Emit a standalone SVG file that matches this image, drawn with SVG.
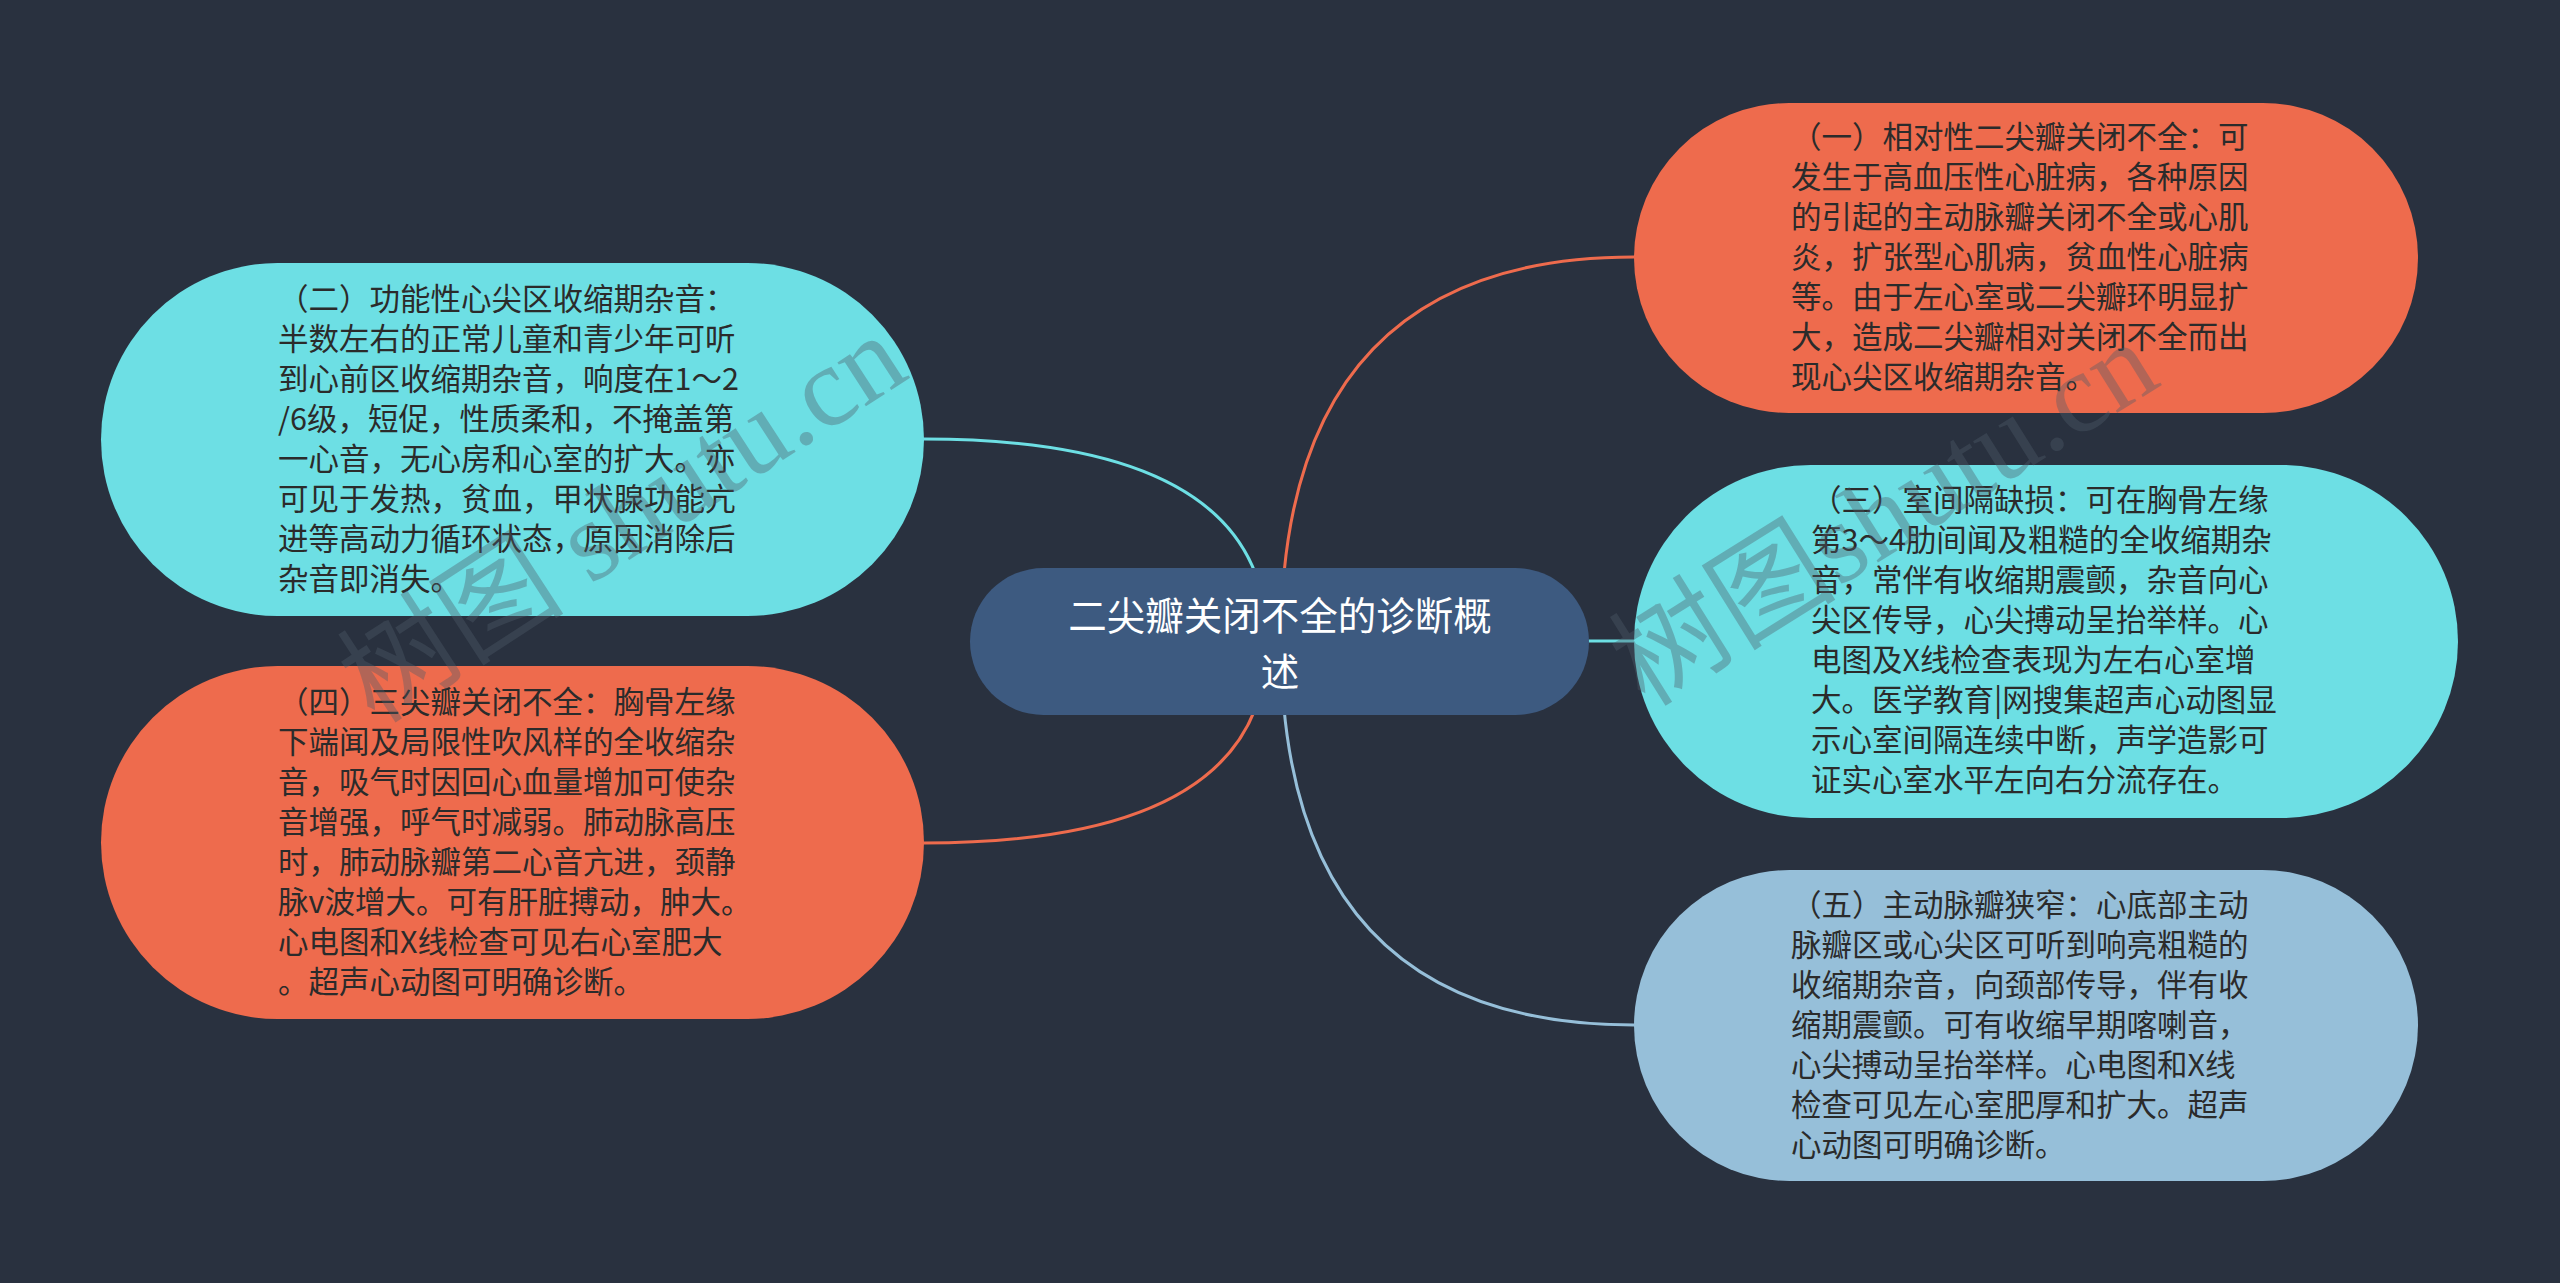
<svg xmlns="http://www.w3.org/2000/svg" width="2560" height="1283" viewBox="0 0 2560 1283">
<style>
.bg{fill:#29313f}
.orange{fill:#ee6b4d}
.cyan{fill:#6ddfe4}
.lblue{fill:#96bfd9}
.root{fill:#3d5a80}
.t{font-family:"Noto Sans CJK SC","Noto Sans",sans-serif;font-size:30.5px;fill:#2b2b2b}
.rt{font-family:"Noto Sans CJK SC","Noto Sans",sans-serif;font-size:38.5px;fill:#ffffff;text-anchor:middle}
.c{fill:none;stroke-width:3;stroke-linecap:round}
.wm{font-family:"Liberation Serif","Noto Sans CJK SC",serif;font-size:114px;fill:#4f5d68;fill-opacity:0.38}
</style>
<rect class="bg" x="0" y="0" width="2560" height="1283"/>
<g id="connectors">
<path class="c" stroke="#ee6b4d" d="M1281 641 Q1281 257 1634 257"/>
<path class="c" stroke="#6ddfe4" d="M1589 641 L1634 641"/>
<path class="c" stroke="#96bfd9" d="M1281 641 Q1281 1025 1634 1025"/>
<path class="c" stroke="#6ddfe4" d="M1267 641 Q1267 439 924 439"/>
<path class="c" stroke="#ee6b4d" d="M1267 641 Q1267 843 924 843"/>
</g>
<g id="root">
<rect class="root" x="970" y="568" width="619" height="147" rx="73.5"/>
<text class="rt"><tspan x="1280" y="630">二尖瓣关闭不全的诊断概</tspan><tspan x="1280" y="686">述</tspan></text>
</g>
<g id="node1">
<rect class="orange" x="1634" y="103" width="784" height="310" rx="155"/>
<text class="t" x="1791" y="148">（一）相对性二尖瓣关闭不全：可</text>
<text class="t" x="1791" y="188">发生于高血压性心脏病，各种原因</text>
<text class="t" x="1791" y="228">的引起的主动脉瓣关闭不全或心肌</text>
<text class="t" x="1791" y="268">炎，扩张型心肌病，贫血性心脏病</text>
<text class="t" x="1791" y="308">等。由于左心室或二尖瓣环明显扩</text>
<text class="t" x="1791" y="348">大，造成二尖瓣相对关闭不全而出</text>
<text class="t" x="1791" y="388">现心尖区收缩期杂音。</text>
</g>
<g id="node3">
<rect class="cyan" x="1634" y="465" width="824" height="353" rx="176.5"/>
<text class="t" x="1811" y="511">（三）室间隔缺损：可在胸骨左缘</text>
<text class="t" x="1811" y="551">第3～4肋间闻及粗糙的全收缩期杂</text>
<text class="t" x="1811" y="591">音，常伴有收缩期震颤，杂音向心</text>
<text class="t" x="1811" y="631">尖区传导，心尖搏动呈抬举样。心</text>
<text class="t" x="1811" y="671">电图及X线检查表现为左右心室增</text>
<text class="t" x="1811" y="711">大。医学教育|网搜集超声心动图显</text>
<text class="t" x="1811" y="751">示心室间隔连续中断，声学造影可</text>
<text class="t" x="1811" y="791">证实心室水平左向右分流存在。</text>
</g>
<g id="node5">
<rect class="lblue" x="1634" y="870" width="784" height="311" rx="155.5"/>
<text class="t" x="1791" y="916">（五）主动脉瓣狭窄：心底部主动</text>
<text class="t" x="1791" y="956">脉瓣区或心尖区可听到响亮粗糙的</text>
<text class="t" x="1791" y="996">收缩期杂音，向颈部传导，伴有收</text>
<text class="t" x="1791" y="1036">缩期震颤。可有收缩早期喀喇音，</text>
<text class="t" x="1791" y="1076">心尖搏动呈抬举样。心电图和X线</text>
<text class="t" x="1791" y="1116">检查可见左心室肥厚和扩大。超声</text>
<text class="t" x="1791" y="1156">心动图可明确诊断。</text>
</g>
<g id="node2">
<rect class="cyan" x="101" y="263" width="823" height="353" rx="176.5"/>
<text class="t" x="278" y="310">（二）功能性心尖区收缩期杂音：</text>
<text class="t" x="278" y="350">半数左右的正常儿童和青少年可听</text>
<text class="t" x="278" y="390">到心前区收缩期杂音，响度在1～2</text>
<text class="t" x="278" y="430">/6级，短促，性质柔和，不掩盖第</text>
<text class="t" x="278" y="470">一心音，无心房和心室的扩大。亦</text>
<text class="t" x="278" y="510">可见于发热，贫血，甲状腺功能亢</text>
<text class="t" x="278" y="550">进等高动力循环状态，原因消除后</text>
<text class="t" x="278" y="590">杂音即消失。</text>
</g>
<g id="node4">
<rect class="orange" x="101" y="666" width="823" height="353" rx="176.5"/>
<text class="t" x="278" y="713">（四）三尖瓣关闭不全：胸骨左缘</text>
<text class="t" x="278" y="753">下端闻及局限性吹风样的全收缩杂</text>
<text class="t" x="278" y="793">音，吸气时因回心血量增加可使杂</text>
<text class="t" x="278" y="833">音增强，呼气时减弱。肺动脉高压</text>
<text class="t" x="278" y="873">时，肺动脉瓣第二心音亢进，颈静</text>
<text class="t" x="278" y="913">脉v波增大。可有肝脏搏动，肿大。</text>
<text class="t" x="278" y="953">心电图和X线检查可见右心室肥大</text>
<text class="t" x="278" y="993">。超声心动图可明确诊断。</text>
</g>
<g id="watermarks">
<text class="wm" transform="translate(375 725) rotate(-33)">树图 shutu.cn</text>
<text class="wm" transform="translate(1645 708) rotate(-32)">树图shutu.cn</text>
</g>
</svg>
